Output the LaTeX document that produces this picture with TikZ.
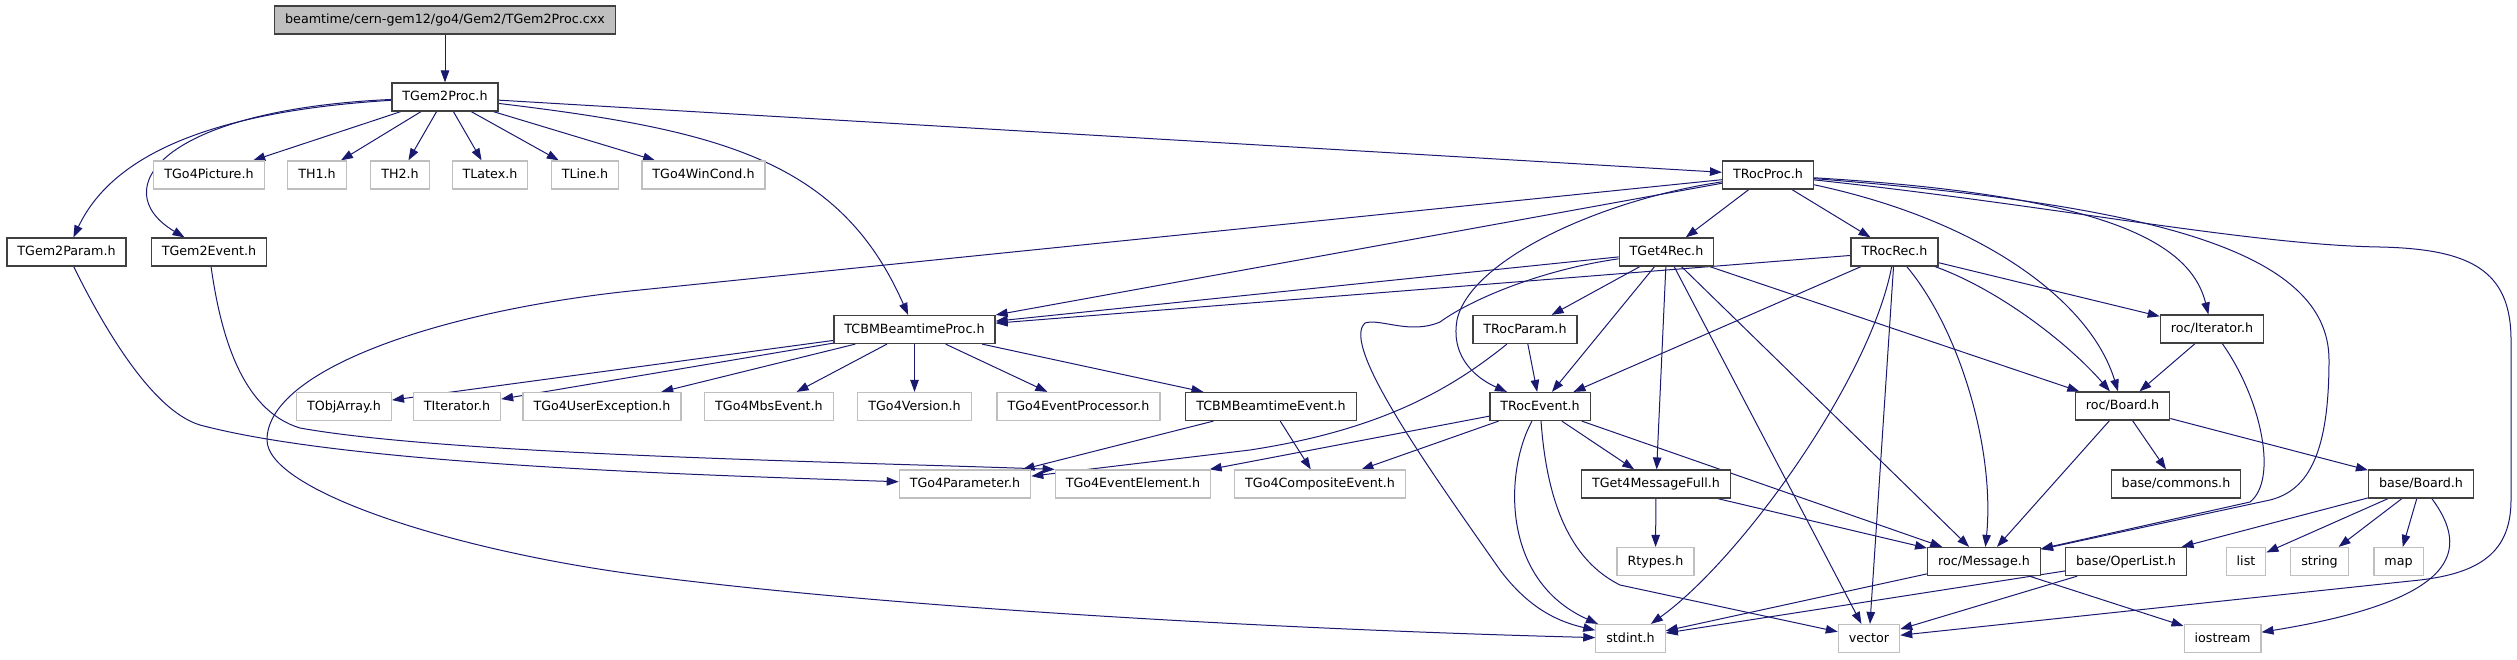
\documentclass[tikz,border=0pt]{standalone}
\usepackage{fontspec}
\setmainfont{DejaVu Sans}
\usetikzlibrary{arrows.meta}
\pgfdeclarelayer{bg}
\pgfsetlayers{bg,main}
\definecolor{edgecol}{HTML}{191970}
\definecolor{docborder}{HTML}{404040}
\definecolor{undocborder}{HTML}{BFBFBF}
\definecolor{rootfill}{HTML}{BFBFBF}
\begin{document}
\begin{tikzpicture}[x=1pt,y=-1pt,
  doc/.style={draw=docborder, fill=white, line width=1.2pt, minimum height=28pt,
    inner xsep=10.5pt, inner ysep=0pt, font=\fontsize{12.7}{15}\selectfont,
    text height=9.5pt, text depth=2.5pt},
  undoc/.style={doc, draw=undocborder},
  rootnode/.style={doc, fill=rootfill},
  dep/.style={draw=edgecol, line width=1pt, -{Triangle[length=12pt,width=8.5pt]}}]
\useasboundingbox (0,0) rectangle (2517,659);

\node[rootnode] (root) at (445,20) {beamtime/cern-gem12/go4/Gem2/TGem2Proc.cxx};
\node[doc] (gproc) at (445,97) {TGem2Proc.h};
\node[undoc] (picture) at (209,175) {TGo4Picture.h};
\node[undoc] (th1) at (317,175) {TH1.h};
\node[undoc] (th2) at (400,175) {TH2.h};
\node[undoc] (tlatex) at (490,175) {TLatex.h};
\node[undoc] (tline) at (585,175) {TLine.h};
\node[undoc] (wincond) at (703.5,175) {TGo4WinCond.h};
\node[doc] (rocproc) at (1768,175) {TRocProc.h};
\node[doc] (gparam) at (66.5,252) {TGem2Param.h};
\node[doc] (gevent) at (209,252) {TGem2Event.h};
\node[doc] (get4rec) at (1666.5,252) {TGet4Rec.h};
\node[doc] (rocrec) at (1894.5,252) {TRocRec.h};
\node[doc] (cbmproc) at (914.5,329.5) {TCBMBeamtimeProc.h};
\node[doc] (rocparam) at (1525,329.5) {TRocParam.h};
\node[doc] (iter) at (2212,329) {roc/Iterator.h};
\node[undoc] (objarray) at (344,406.5) {TObjArray.h};
\node[undoc] (titer) at (457,406.5) {TIterator.h};
\node[undoc] (userexc) at (602,406.5) {TGo4UserException.h};
\node[undoc] (mbs) at (769,406.5) {TGo4MbsEvent.h};
\node[undoc] (version) at (914.5,406.5) {TGo4Version.h};
\node[undoc] (evproc) at (1078.5,406.5) {TGo4EventProcessor.h};
\node[doc] (cbmevent) at (1271,406.5) {TCBMBeamtimeEvent.h};
\node[doc] (rocevent) at (1540,406.5) {TRocEvent.h};
\node[doc] (board) at (2122.5,406) {roc/Board.h};
\node[undoc] (param) at (965,484) {TGo4Parameter.h};
\node[undoc] (evelem) at (1133,484) {TGo4EventElement.h};
\node[undoc] (composite) at (1320,484) {TGo4CompositeEvent.h};
\node[doc] (msgfull) at (1656,484) {TGet4MessageFull.h};
\node[doc] (commons) at (2176,484) {base/commons.h};
\node[doc] (bboard) at (2421,484) {base/Board.h};
\node[undoc] (rtypes) at (1655.5,561.5) {Rtypes.h};
\node[doc] (message) at (1984,561.5) {roc/Message.h};
\node[doc] (operlist) at (2126,561.5) {base/OperList.h};
\node[undoc] (nlist) at (2246,561.5) {list};
\node[undoc] (nstring) at (2319.5,561.5) {string};
\node[undoc] (nmap) at (2398.5,561.5) {map};
\node[undoc] (stdint) at (1630.5,638.5) {stdint.h};
\node[undoc] (vector) at (1869,638.5) {vector};
\node[undoc] (iostream) at (2222.5,638.5) {iostream};

\begin{pgfonlayer}{bg}
% straight edges
\draw[dep] (root) -- (gproc);
\foreach \t in {picture,th1,th2,tlatex,tline,wincond,rocproc} \draw[dep] (gproc) -- (\t);
\foreach \t in {cbmproc,get4rec,rocrec} \draw[dep] (rocproc) -- (\t);
\foreach \t in {cbmproc,rocparam,rocevent,msgfull,vector,message,board} \draw[dep] (get4rec) -- (\t);
\foreach \t in {cbmproc,rocevent,vector,iter} \draw[dep] (rocrec) -- (\t);
\foreach \t in {objarray,titer,userexc,mbs,version,evproc,cbmevent} \draw[dep] (cbmproc) -- (\t);
\foreach \t in {param,composite} \draw[dep] (cbmevent) -- (\t);
\draw[dep] (rocparam) -- (rocevent);
\foreach \t in {evelem,composite,msgfull,message} \draw[dep] (rocevent) -- (\t);
\foreach \t in {rtypes,message} \draw[dep] (msgfull) -- (\t);
\draw[dep] (iter) -- (board);
\foreach \t in {message,commons,bboard} \draw[dep] (board) -- (\t);
\foreach \t in {operlist,nlist,nstring,nmap} \draw[dep] (bboard) -- (\t);
\foreach \t in {stdint,iostream} \draw[dep] (message) -- (\t);
\foreach \t in {stdint,vector} \draw[dep] (operlist) -- (\t);
% curved edges
\draw[dep] (gproc) .. controls (200,112) and (110,160) .. (gparam);
\draw[dep] (gproc) .. controls (160,110) and (105,190) .. (gevent);
\draw[dep] (gproc) .. controls (720,130) and (840,160) .. (cbmproc);
\draw[dep] (rocproc) -- (640,290) .. controls (440,310) and (267,370) .. (267,440)
  .. controls (267,490) and (450,550) .. (640,575) .. controls (900,609) and (1300,630) .. (stdint);
\draw[dep] (rocproc) .. controls (2050,205) and (2250,245) .. (2380,247)
  .. controls (2470,249) and (2511,270) .. (2511,340) -- (2511,500)
  .. controls (2511,552) and (2480,573) .. (2420,580) -- (vector);
\draw[dep] (rocproc) .. controls (2150,205) and (2329,250) .. (2329,360)
  .. controls (2329,450) and (2310,490) .. (2270,500) -- (message);
\draw[dep] (rocproc) .. controls (2100,195) and (2190,240) .. (iter);
\draw[dep] (rocproc) .. controls (1980,220) and (2090,300) .. (board);
\draw[dep] (rocproc) .. controls (1600,200) and (1470,260) .. (1457,320)
  .. controls (1450,360) and (1480,380) .. (rocevent);
\draw[dep] (get4rec) .. controls (1540,270) and (1470,300) .. (1440,322)
  .. controls (1410,335) and (1380,318) .. (1365,323)
  .. controls (1340,345) and (1430,470) .. (1500,570)
  .. controls (1530,610) and (1560,622) .. (stdint);
\draw[dep] (rocevent) .. controls (1505,470) and (1500,580) .. (stdint);
\draw[dep] (rocevent) .. controls (1548,520) and (1580,565) .. (1620,585) -- (vector);
\draw[dep] (rocrec) .. controls (1870,380) and (1740,560) .. (stdint);
\draw[dep] (rocrec) .. controls (1960,330) and (1995,450) .. (message);
\draw[dep] (rocrec) .. controls (2000,290) and (2070,345) .. (board);
\draw[dep] (gparam) .. controls (100,320) and (150,410) .. (200,425)
  .. controls (350,465) and (700,475) .. (param);
\draw[dep] (gevent) .. controls (220,330) and (240,410) .. (300,428)
  .. controls (450,455) and (850,462) .. (evelem.north west);
\draw[dep] (rocparam) .. controls (1450,390) and (1380,430) .. (1250,450) -- (param);
\draw[dep] (iter) .. controls (2262,400) and (2278,480) .. (2250,502) -- (message);
\draw[dep] (bboard) .. controls (2470,550) and (2460,600) .. (iostream);
\end{pgfonlayer}
\end{tikzpicture}
\end{document}
